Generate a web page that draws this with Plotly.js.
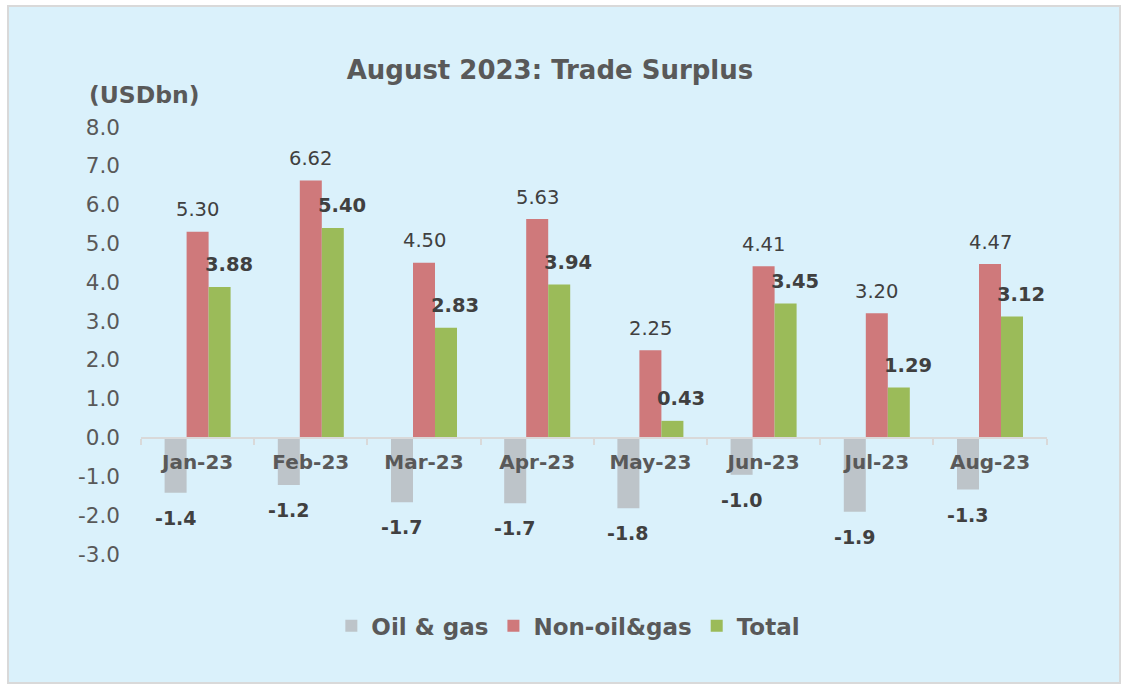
<!DOCTYPE html>
<html>
<head>
<meta charset="utf-8">
<script src="https://cdn.plot.ly/plotly-3.0.1.min.js"></script>
<style>
  html, body { margin: 0; padding: 0; background: #ffffff; }
  #frame { position: absolute; left: 7px; top: 5px; width: 1114px; height: 679px; box-sizing: border-box;
           background: #DAF1FB; border: 2px solid #D9D9D9; }
  #chart { position: absolute; left: 0; top: 0; width: 1121px; height: 687px; }
</style>
</head>
<body>
<div id="frame"></div>
<div id="chart"></div>
<script>
// ---- data ----
const categories = ["Jan-23", "Feb-23", "Mar-23", "Apr-23", "May-23", "Jun-23", "Jul-23", "Aug-23"];
const oilGas    = [-1.42, -1.22, -1.67, -1.69, -1.82, -0.96, -1.91, -1.34];
const nonOilGas = [5.30, 6.62, 4.50, 5.63, 2.25, 4.41, 3.20, 4.47];
const total     = [3.88, 5.40, 2.83, 3.94, 0.43, 3.45, 1.29, 3.12];
const seriesNames = ["Oil & gas", "Non-oil&gas", "Total"];
const yTickVals = [-3, -2, -1, 0, 1, 2, 3, 4, 5, 6, 7, 8];
const yTickText = ["-3.0", "-2.0", "-1.0", "0.0", "1.0", "2.0", "3.0", "4.0", "5.0", "6.0", "7.0", "8.0"];

// ---- style ----
const FONT = "DejaVu Sans, Verdana, sans-serif";
const TXT = "#595959";
const LBL = "#404040";
const colors = ["#BDC4C9", "#CF797B", "#9BBB59"];

const traces = [oilGas, nonOilGas, total].map((vals, k) => ({
  type: "bar",
  name: seriesNames[k],
  x: categories,
  y: vals,
  marker: { color: colors[k], line: { width: 0 } },
  hoverinfo: "skip"
}));

const annotations = [];
categories.forEach((c, i) => {
  annotations.push({ x: c, y: oilGas[i], xref: "x", yref: "y", xshift: -22, yshift: -25,
    text: oilGas[i].toFixed(1), showarrow: false, xanchor: "center", yanchor: "middle",
    font: { family: FONT, size: 19, color: LBL, weight: "bold" } });
  annotations.push({ x: c, y: nonOilGas[i], xref: "x", yref: "y", xshift: 0, yshift: 22,
    text: nonOilGas[i].toFixed(2), showarrow: false, xanchor: "center", yanchor: "middle",
    font: { family: FONT, size: 19.5, color: LBL } });
  annotations.push({ x: c, y: total[i], xref: "x", yref: "y", xshift: 31, yshift: 22,
    text: total[i].toFixed(2), showarrow: false, xanchor: "center", yanchor: "middle",
    font: { family: FONT, size: 19.5, color: LBL, weight: "bold" } });
});
annotations.push({ x: 0.004, y: 1.075, xref: "paper", yref: "paper", text: "(USDbn)",
  showarrow: false, xanchor: "center", yanchor: "middle",
  font: { family: FONT, size: 23.5, color: TXT, weight: "bold" } });

const layout = {
  width: 1121, height: 687,
  margin: { l: 141, r: 74, t: 127, b: 133 },
  paper_bgcolor: "rgba(0,0,0,0)",
  plot_bgcolor: "rgba(0,0,0,0)",
  font: { family: FONT, color: TXT },
  title: { text: "August 2023: Trade Surplus", x: 0.4906, xref: "container", xanchor: "center",
           y: 0.898, yref: "container", yanchor: "middle",
           font: { family: FONT, size: 26, color: TXT, weight: "bold" } },
  barmode: "group",
  bargap: 0.417,
  bargroupgap: 0,
  xaxis: {
    type: "category",
    anchor: "free", position: 3 / 11,
    showline: true, linecolor: "#D9D9D9", linewidth: 2,
    ticks: "outside", tickson: "boundaries", ticklen: 6, tickwidth: 2, tickcolor: "#D9D9D9",
    showgrid: false, zeroline: false,
    ticklabelstandoff: 6,
    tickfont: { family: FONT, size: 20, color: TXT, weight: "bold" },
    fixedrange: true
  },
  yaxis: {
    range: [-3, 8], domain: [0, 1],
    tickvals: yTickVals, ticktext: yTickText,
    showgrid: false, zeroline: false, showline: false, ticks: "",
    ticklabelstandoff: 20,
    tickfont: { family: FONT, size: 21.5, color: TXT },
    fixedrange: true
  },
  showlegend: true,
  legend: {
    orientation: "h", xref: "container", yref: "container",
    x: 0.507, xanchor: "center", y: 0.089, yanchor: "middle",
    font: { family: FONT, size: 23, color: TXT, weight: "bold" },
    bgcolor: "rgba(0,0,0,0)", traceorder: "normal"
  },
  annotations: annotations,
  hovermode: false
};

Plotly.newPlot("chart", traces, layout, { displayModeBar: false, staticPlot: true });
</script>
</body>
</html>
